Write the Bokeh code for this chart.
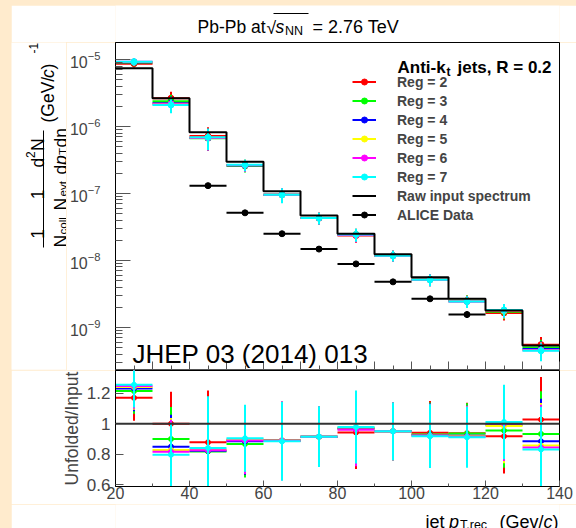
import math
from bokeh.plotting import figure
from bokeh.models import (Label, Legend, LegendItem, Span, BoxAnnotation,
                          FixedTicker, CustomJSTickFormatter, Range1d)
from bokeh.layouts import column, row
from bokeh.embed import file_html
from bokeh.resources import INLINE

# ---------------- data ----------------
bin_low = [20, 30, 40, 50, 60, 70, 80, 90, 100, 110, 120, 130]
bin_high = [30, 40, 50, 60, 70, 80, 90, 100, 110, 120, 130, 140]
bin_center = [25, 35, 45, 55, 65, 75, 85, 95, 105, 115, 125, 135]

raw_input = [7.4e-6, 2.64e-6, 8.2e-7, 2.97e-7, 1.08e-7, 4.7e-8, 2.51e-8,
             1.24e-8, 5.6e-9, 2.68e-9, 1.80e-9, 5.4e-10]

reg_labels = ["Reg = 2", "Reg = 3", "Reg = 4", "Reg = 5", "Reg = 6", "Reg = 7"]
reg_colors = ["#FF0000", "#00FF00", "#0000FF", "#FFFF00", "#FF00FF", "#00FFFF"]

unfolded_reg2 = [8.66e-6, 2.64e-6, 7.2e-7, 2.66e-7, 9.6e-8, 4.3e-8, 2.36e-8, 1.18e-8, 5.26e-9, 2.51e-9, 1.65e-9, 5.55e-10]
unfolded_reg3 = [8.99e-6, 2.38e-6, 6.7e-7, 2.57e-7, 9.6e-8, 4.3e-8, 2.43e-8, 1.18e-8, 5.2e-9, 2.51e-9, 1.72e-9, 5.04e-10]
unfolded_reg4 = [9.12e-6, 2.24e-6, 6.74e-7, 2.63e-7, 9.6e-8, 4.3e-8, 2.44e-8, 1.18e-8, 5.18e-9, 2.47e-9, 1.79e-9, 4.77e-10]
unfolded_reg5 = [9.19e-6, 2.18e-6, 6.81e-7, 2.66e-7, 9.6e-8, 4.3e-8, 2.45e-8, 1.18e-8, 5.16e-9, 2.46e-9, 1.77e-9, 4.62e-10]
unfolded_reg6 = [9.24e-6, 2.15e-6, 6.77e-7, 2.64e-7, 9.59e-8, 4.3e-8, 2.41e-8, 1.18e-8, 5.15e-9, 2.45e-9, 1.80e-9, 4.56e-10]
unfolded_reg7 = [9.29e-6, 2.10e-6, 6.89e-7, 2.68e-7, 9.55e-8, 4.3e-8, 2.45e-8, 1.18e-8, 5.14e-9, 2.44e-9, 1.82e-9, 4.49e-10]
unfolded_rel_err = [0.12, 0.25, 0.35, 0.2, 0.25, 0.2, 0.22, 0.18, 0.2, 0.2, 0.23, 0.3]

ratio_reg2 = [1.17, 1.00, 0.878, 0.895, 0.89, 0.915, 0.942, 0.95, 0.94, 0.938, 0.918, 1.027]
ratio_reg3 = [1.215, 0.90, 0.818, 0.867, 0.89, 0.915, 0.967, 0.95, 0.929, 0.935, 0.956, 0.933]
ratio_reg4 = [1.232, 0.849, 0.822, 0.884, 0.89, 0.915, 0.972, 0.95, 0.925, 0.92, 0.993, 0.884]
ratio_reg5 = [1.242, 0.827, 0.83, 0.895, 0.89, 0.915, 0.975, 0.95, 0.922, 0.918, 0.985, 0.856]
ratio_reg6 = [1.248, 0.816, 0.825, 0.89, 0.888, 0.915, 0.96, 0.95, 0.92, 0.915, 1.0, 0.844]
ratio_reg7 = [1.256, 0.796, 0.84, 0.904, 0.884, 0.915, 0.978, 0.95, 0.918, 0.911, 1.011, 0.831]
ratio_err = [0.15, 0.21, 0.34, 0.22, 0.26, 0.2, 0.24, 0.19, 0.21, 0.2, 0.245, 0.28]

alice_low = [40, 50, 60, 70, 80, 90, 100, 110]
alice_high = [50, 60, 70, 80, 90, 100, 110, 120]
alice_center = [45, 55, 65, 75, 85, 95, 105, 115]
alice_value = [1.31e-7, 5.15e-8, 2.51e-8, 1.48e-8, 8.9e-9, 4.8e-9, 2.68e-9, 1.56e-9]
alice_err = [3e-9, 1.2e-9, 6e-10, 4e-10, 2.5e-10, 1.5e-10, 1e-10, 1.8e-10]

upper_y_ticks = [1e-9, 1e-8, 1e-7, 1e-6, 1e-5]
upper_x_ticks = [20, 30, 40, 50, 60, 70, 80, 90, 100, 110, 120, 130, 140]
upper_x_minor = [25, 35, 45, 55, 65, 75, 85, 95, 105, 115, 125, 135]
ratio_ticks = [0.6, 0.8, 1.0, 1.2]
ratio_tick_labels = ["0.6", "0.8", "1", "1.2"]
lower_x_ticks = [20, 40, 60, 80, 100, 120, 140]
lower_x_minor = [30, 50, 70, 90, 110, 130]

unfolded = [unfolded_reg2, unfolded_reg3, unfolded_reg4, unfolded_reg5, unfolded_reg6, unfolded_reg7]
ratios = [ratio_reg2, ratio_reg3, ratio_reg4, ratio_reg5, ratio_reg6, ratio_reg7]

# ---------------- layout constants (page pixels) ----------------
FONT = "Liberation Sans"
TICK_COLOR = "#555555"
V = math.pi / 2


def add_text(fig, ox, ob, text, x, y, size, style="normal", angle=0.0,
             align="left", baseline="alphabetic"):
    """x, y are page pixels; (ox, ob) is the page position of the figure frame's left/bottom."""
    fig.add_layout(Label(x=x - ox, y=ob - y, x_units="screen", y_units="screen",
                         text=text, text_font=FONT, text_font_size=f"{size}px",
                         text_font_style=style, text_color="black", angle=angle,
                         text_align=align, text_baseline=baseline))


def add_bar(fig, ox, ob, x0, x1, y0, y1):
    fig.add_layout(BoxAnnotation(left=x0 - ox, right=x1 - ox, top=ob - y0, bottom=ob - y1,
                                 left_units="screen", right_units="screen",
                                 top_units="screen", bottom_units="screen",
                                 fill_color="black", fill_alpha=1.0, line_alpha=0.0))


def blank_fig(w, h):
    f = figure(width=w, height=h, x_range=Range1d(0, 1), y_range=Range1d(0, 1),
               x_axis_type=None, y_axis_type=None, min_border=0,
               min_border_left=0, min_border_right=0, min_border_top=0, min_border_bottom=0,
               output_backend="svg", toolbar_location=None,
               background_fill_color="white", border_fill_color="white",
               outline_line_color=None)
    f.xgrid.visible = False
    f.ygrid.visible = False
    return f


# ---------------- title strip (page y 5..42; frame aligned with plots: x 115..559) ----------------
tfig = blank_fig(565, 37)
TX, TB = 115, 42
add_text(tfig, TX, TB, "Pb-Pb at", 197, 26.5, 17.5)
add_text(tfig, TX, TB, "\u221a", 266, 27, 17.5)
add_text(tfig, TX, TB, "s", 275, 26.5, 17.5, style="italic")
add_text(tfig, TX, TB, "NN", 284.5, 30, 12.5)
add_text(tfig, TX, TB, "= 2.76 TeV", 312, 26.5, 18)
add_bar(tfig, TX, TB, 273, 308, 12.5, 13.5)

# ---------------- y-title strip (page x 11..66, y 42..369) ----------------
yfig = blank_fig(55, 328)
YX, YB = 11, 369
add_text(yfig, YX, YB, "N", 60, 247, 17.5, angle=V)
add_text(yfig, YX, YB, "coll", 62, 234, 11.5, angle=V)
add_text(yfig, YX, YB, "N", 60, 210, 17.5, angle=V)
add_text(yfig, YX, YB, "evt", 62, 196, 11.5, angle=V)
add_text(yfig, YX, YB, "d", 60, 174, 17.5, angle=V)
add_text(yfig, YX, YB, "p", 60, 164.5, 17.5, style="italic", angle=V)
add_text(yfig, YX, YB, "T", 62, 154.5, 11.5, angle=V)
add_text(yfig, YX, YB, "d\u03b7", 60, 147, 17.5, angle=V)
add_text(yfig, YX, YB, "1", 37, 233.5, 17.5, angle=V, align="center")
add_text(yfig, YX, YB, "1", 37, 194, 17.5, angle=V, align="center")
add_text(yfig, YX, YB, "d", 37, 167, 17.5, angle=V)
add_text(yfig, YX, YB, "2", 30, 157.5, 12, angle=V)
add_text(yfig, YX, YB, "N", 37, 150.5, 17.5, angle=V)
add_bar(yfig, YX, YB, 42.5, 43.5, 130, 247)
add_text(yfig, YX, YB, "(GeV/", 47, 122, 17.5, angle=V)
add_text(yfig, YX, YB, "c", 47, 77.5, 17.5, style="italic", angle=V)
add_text(yfig, YX, YB, ")", 47, 69, 17.5, angle=V)
add_text(yfig, YX, YB, "-1", 33, 53, 12, angle=V)

# ---------------- upper panel ----------------
p1 = figure(frame_width=444, frame_height=327, x_range=Range1d(20, 140),
            y_range=Range1d(10 ** -9.627, 10 ** -4.746), y_axis_type="log",
            output_backend="svg", toolbar_location=None,
            min_border_left=49, min_border_right=17, min_border_top=0, min_border_bottom=1,
            background_fill_color="white", border_fill_color="white",
            outline_line_color="black", outline_line_width=1)
p1.xgrid.visible = False
p1.ygrid.visible = False
P1X, P1B = 115, 369

p1.yaxis.ticker = FixedTicker(ticks=upper_y_ticks,
                              minor_ticks=[m * t for t in [1e-10] + upper_y_ticks for m in range(2, 10)])
p1.yaxis.major_tick_in = 15
p1.yaxis.major_tick_out = 0
p1.yaxis.minor_tick_in = 7
p1.yaxis.minor_tick_out = 0
p1.yaxis.major_tick_line_color = TICK_COLOR
p1.yaxis.minor_tick_line_color = TICK_COLOR
p1.yaxis.axis_line_color = "black"
p1.yaxis.major_label_text_font = FONT
p1.yaxis.major_label_text_font_size = "16px"
p1.yaxis.major_label_standoff = 15

p1.xaxis.ticker = FixedTicker(ticks=upper_x_ticks, minor_ticks=upper_x_minor)
p1.xaxis.formatter = CustomJSTickFormatter(code="return ''")
p1.xaxis.major_tick_in = 8
p1.xaxis.major_tick_out = 0
p1.xaxis.minor_tick_in = 4
p1.xaxis.minor_tick_out = 0
p1.xaxis.major_tick_line_color = TICK_COLOR
p1.xaxis.minor_tick_line_color = TICK_COLOR
p1.xaxis.axis_line_color = TICK_COLOR
p1.xaxis.major_label_text_font_size = "0px"
p1.xaxis.major_label_standoff = 0

legend_items = []
for vals, col, lab in zip(unfolded, reg_colors, reg_labels):
    lo = [v * (1 - e) for v, e in zip(vals, unfolded_rel_err)]
    hi = [v * (1 + e) for v, e in zip(vals, unfolded_rel_err)]
    hs = p1.segment(x0=bin_low, x1=bin_high, y0=vals, y1=vals, line_color=col, line_width=2)
    p1.segment(x0=bin_center, x1=bin_center, y0=lo, y1=hi, line_color=col, line_width=2)
    sc = p1.scatter(x=bin_center, y=vals, size=6, fill_color=col, line_color=col)
    legend_items.append(LegendItem(label=lab, renderers=[hs, sc]))

raw_x = bin_low + [bin_high[-1]]
raw_y = raw_input + [raw_input[-1]]
st = p1.step(x=raw_x, y=raw_y, mode="after", line_color="black", line_width=2)
legend_items.append(LegendItem(label="Raw input spectrum", renderers=[st]))

a_lo = [v - e for v, e in zip(alice_value, alice_err)]
a_hi = [v + e for v, e in zip(alice_value, alice_err)]
ahs = p1.segment(x0=alice_low, x1=alice_high, y0=alice_value, y1=alice_value,
                 line_color="black", line_width=2)
p1.segment(x0=alice_center, x1=alice_center, y0=a_lo, y1=a_hi, line_color="black", line_width=2)
asc = p1.scatter(x=alice_center, y=alice_value, size=6, fill_color="black", line_color="black")
legend_items.append(LegendItem(label="ALICE Data", renderers=[ahs, asc]))

legend = Legend(items=legend_items, location=(237, 144.8), glyph_width=24, glyph_height=15,
                label_height=19, label_standoff=21, spacing=0, padding=0, margin=0,
                border_line_alpha=0, background_fill_alpha=0,
                label_text_font=FONT, label_text_font_size="14px",
                label_text_font_style="bold")
p1.add_layout(legend)

add_text(p1, P1X, P1B, "Anti-k", 397, 67, 17, style="bold")
add_text(p1, P1X, P1B, "t", 446, 71, 12, style="bold")
add_text(p1, P1X, P1B, "jets, R = 0.2", 457, 67, 17, style="bold")
add_text(p1, P1X, P1B, "JHEP 03 (2014) 013", 132, 353.3, 26)

# ---------------- lower panel ----------------
p2 = figure(frame_width=444, frame_height=116, x_range=p1.x_range,
            y_range=Range1d(0.587, 1.35),
            output_backend="svg", toolbar_location=None,
            min_border_left=104, min_border_right=17, min_border_top=0, min_border_bottom=18,
            background_fill_color="white", border_fill_color="white",
            outline_line_color="black", outline_line_width=1)
p2.xgrid.visible = False
p2.ygrid.visible = False

p2.yaxis.ticker = FixedTicker(ticks=ratio_ticks, minor_ticks=[])
p2.yaxis.formatter = CustomJSTickFormatter(
    args=dict(tv=ratio_ticks, tl=ratio_tick_labels),
    code="""
    let best = 0;
    for (let i = 1; i < tv.length; i++) {
        if (Math.abs(tv[i] - tick) < Math.abs(tv[best] - tick)) best = i;
    }
    return tl[best];
    """)
p2.yaxis.major_tick_in = 8
p2.yaxis.major_tick_out = 0
p2.yaxis.minor_tick_in = 0
p2.yaxis.minor_tick_out = 0
p2.yaxis.major_tick_line_color = TICK_COLOR
p2.yaxis.axis_line_color = "black"
p2.yaxis.major_label_text_font = FONT
p2.yaxis.major_label_text_font_size = "17px"
p2.yaxis.major_label_standoff = 5
p2.yaxis.axis_label = "Unfolded/Input"
p2.yaxis.axis_label_text_font = FONT
p2.yaxis.axis_label_text_font_size = "17.5px"
p2.yaxis.axis_label_text_font_style = "normal"
p2.yaxis.axis_label_standoff = 2

p2.xaxis.ticker = FixedTicker(ticks=lower_x_ticks, minor_ticks=lower_x_minor)
p2.xaxis.major_tick_in = 6
p2.xaxis.major_tick_out = 0
p2.xaxis.minor_tick_in = 3
p2.xaxis.minor_tick_out = 0
p2.xaxis.major_tick_line_color = TICK_COLOR
p2.xaxis.minor_tick_line_color = TICK_COLOR
p2.xaxis.axis_line_color = "black"
p2.xaxis.major_label_text_font = FONT
p2.xaxis.major_label_text_font_size = "16px"
p2.xaxis.major_label_standoff = 0

for vals, col in zip(ratios, reg_colors):
    lo = [v - e for v, e in zip(vals, ratio_err)]
    hi = [v + e for v, e in zip(vals, ratio_err)]
    p2.segment(x0=bin_low, x1=bin_high, y0=vals, y1=vals, line_color=col, line_width=2)
    p2.segment(x0=bin_center, x1=bin_center, y0=lo, y1=hi, line_color=col, line_width=2)
    p2.scatter(x=bin_center, y=vals, size=5, fill_color=col, line_color=col)

p2.add_layout(Span(location=1.0, dimension="width", line_color="#333333", line_width=2))

# ---------------- x-title strip (page y 504..528; frame aligned x 115..559) ----------------
xfig = blank_fig(565, 24)
XX, XB = 115, 528
add_text(xfig, XX, XB, "jet", 425, 521, 18)
add_text(xfig, XX, XB, "p", 448.5, 521, 18, style="italic")
add_text(xfig, XX, XB, "T,rec", 459.5, 524, 12.5)
add_text(xfig, XX, XB, "(Gev/", 499, 521, 18)
add_text(xfig, XX, XB, "c", 543, 521, 18, style="italic")
add_text(xfig, XX, XB, ")", 552, 521, 18)

layout = column(tfig, row(yfig, p1, spacing=0), p2, xfig, spacing=0)

html = file_html(layout, INLINE, title="Unfolding")
style = ("<style>html, body { margin: 0 !important; background-color: #FFEBCD !important; "
         "overflow: hidden !important; } body { padding: 5px 0 0 11px !important; }</style>")
html = html.replace("</head>", style + "</head>", 1)
open("out.html", "w").write(html)
